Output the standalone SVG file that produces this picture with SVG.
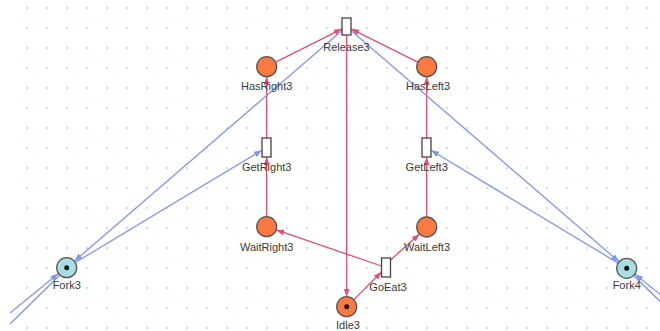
<svg xmlns="http://www.w3.org/2000/svg" width="660" height="331" viewBox="0 0 660 331">
<defs>
<pattern id="grid" x="0" y="0" width="20" height="20" patternUnits="userSpaceOnUse">
<rect x="6.2" y="7.2" width="1.6" height="1.6" fill="#9fd3ec"/>
</pattern>
<marker id="ar" markerUnits="userSpaceOnUse" markerWidth="10" markerHeight="8" refX="8" refY="3" orient="auto">
<path d="M0,0 L8,3 L0,6 z" fill="#e84d6c"/>
</marker>
<marker id="ab" markerUnits="userSpaceOnUse" markerWidth="10" markerHeight="8" refX="8" refY="3" orient="auto">
<path d="M0,0 L8,3 L0,6 z" fill="#7f95f0"/>
</marker>
</defs>
<style>
.r{stroke:#e84d6c;stroke-width:1.3;fill:none;marker-end:url(#ar)}
.b{stroke:#7f95f0;stroke-width:1.3;fill:none;marker-end:url(#ab)}
.bn{stroke:#7f95f0;stroke-width:1.3;fill:none}
.pl{fill:#fb7a43;stroke:#555;stroke-width:1.3}
.fk{fill:#a8dee2;stroke:#555;stroke-width:1.3}
.tr{fill:#fff;stroke:#444;stroke-width:1.3}
.tok{fill:#111}
.lb{font-family:"Liberation Sans",Arial,sans-serif;font-size:11px;fill:#3a3a3a;text-anchor:middle}
</style>
<rect width="660" height="331" fill="#fff"/>
<rect x="20" y="0" width="640" height="331" fill="url(#grid)"/>
<g id="connectors">
<line class="r" x1="275.6" y1="62.2" x2="342" y2="28.8"/>
<line class="r" x1="417.8" y1="62.2" x2="351" y2="28.8"/>
<line class="r" x1="346.6" y1="35" x2="346.7" y2="296.7"/>
<line class="r" x1="266.6" y1="138" x2="266.7" y2="76.7"/>
<line class="r" x1="266.7" y1="216.7" x2="266.6" y2="157"/>
<line class="r" x1="426.6" y1="138" x2="426.7" y2="76.7"/>
<line class="r" x1="426.7" y1="217" x2="426.6" y2="157"/>
<line class="r" x1="381.5" y1="266" x2="276.2" y2="229.9"/>
<line class="r" x1="390.5" y1="260" x2="419.6" y2="234"/>
<line class="r" x1="353.8" y1="299.6" x2="381.5" y2="272"/>
<line class="b" x1="342" y1="30.4" x2="74.3" y2="261.2"/>
<line class="b" x1="75.3" y1="262.5" x2="262" y2="150.2"/>
<line class="b" x1="351" y1="30.4" x2="619.1" y2="261.8"/>
<line class="b" x1="618.1" y1="263.1" x2="431" y2="150.2"/>
<line class="b" x1="10" y1="313" x2="58.4" y2="273.6"/>
<line class="bn" x1="59.6" y1="275.2" x2="10" y2="324"/>
<line class="b" x1="683.4" y1="313" x2="635" y2="274.2"/>
<line class="bn" x1="633.8" y1="275.8" x2="683.4" y2="324"/>
</g>
<g id="Release3"><rect class="tr" x="342" y="18" width="9" height="17"/><text class="lb" x="346.5" y="50.5">Release3</text></g>
<g id="HasRight3"><circle class="pl" cx="266.7" cy="66.7" r="10"/><text class="lb" x="266.7" y="90">HasRight3</text></g>
<g id="HasLeft3"><circle class="pl" cx="426.7" cy="66.7" r="10"/><text class="lb" x="428" y="90">HasLeft3</text></g>
<g id="GetRight3"><rect class="tr" x="262" y="138" width="9" height="19"/><text class="lb" x="266.7" y="170.5">GetRight3</text></g>
<g id="GetLeft3"><rect class="tr" x="422" y="138" width="9" height="19"/><text class="lb" x="426.7" y="170.5">GetLeft3</text></g>
<g id="WaitRight3"><circle class="pl" cx="266.7" cy="226.7" r="10"/><text class="lb" x="266.7" y="250.5">WaitRight3</text></g>
<g id="WaitLeft3"><circle class="pl" cx="426.7" cy="227" r="10"/><text class="lb" x="427" y="250.5">WaitLeft3</text></g>
<g id="GoEat3"><rect class="tr" x="381.5" y="258" width="9" height="19"/><text class="lb" x="388" y="291">GoEat3</text></g>
<g id="Idle3"><circle class="pl" cx="346.7" cy="306.7" r="10"/><circle class="tok" cx="346.7" cy="306.7" r="2.5"/><text class="lb" x="348" y="328.5">Idle3</text></g>
<g id="Fork3"><circle class="fk" cx="66.7" cy="267.7" r="10"/><circle class="tok" cx="66.7" cy="267.7" r="2.5"/><text class="lb" x="66.7" y="289">Fork3</text></g>
<g id="Fork4"><circle class="fk" cx="626.7" cy="268.3" r="10"/><circle class="tok" cx="626.7" cy="268.3" r="2.5"/><text class="lb" x="626.7" y="289">Fork4</text></g>
</svg>
